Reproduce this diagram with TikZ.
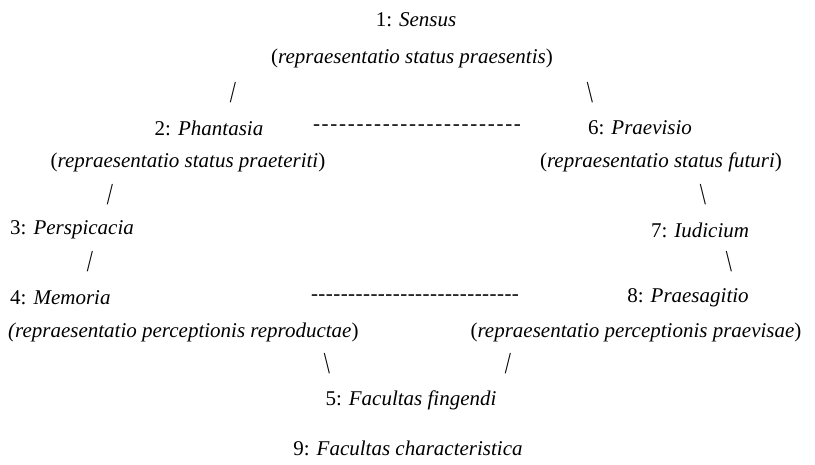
\documentclass[tikz,border=0pt]{standalone}
\usepackage{graphicx}
\usepackage{fontspec}
\setmainfont{Liberation Serif}
\ExplSyntaxOn
\NewDocumentCommand\dashrow{m m}{\hbox~to~#2{\prg_replicate:nn{#1-1}{-\hfil}-}}
\ExplSyntaxOff
\newcommand\fwd{\scalebox{1.05}[1.45]{/}}
\newcommand\bck{\scalebox{1.05}[1.45]{\textbackslash}}
\begin{document}
\begin{tikzpicture}[x=1pt,y=-1pt,
  txt/.style={inner sep=0pt, font=\fontsize{21}{25}\selectfont},
  link/.style={txt},
  lft/.style={txt, anchor=west}]
\useasboundingbox (0,0) rectangle (815,465);
\node[txt] (n1) at (416,20) {1: \textit{Sensus}};
\node[txt] (p1) at (412,58) {(\textit{repraesentatio status praesentis})};
\node[link] (s12) at (233,93) {\fwd};
\node[link] (s16) at (590,93) {\bck};
\node[txt] (n2) at (209,128) {2: \textit{Phantasia}};
\node[txt] (d26) at (417,128) {\dashrow{24}{208pt}};
\node[txt] (n6) at (640,128) {6: \textit{Praevisio}};
\node[txt] (p2) at (188,162) {(\textit{repraesentatio status praeteriti})};
\node[txt] (p6) at (661,162) {(\textit{repraesentatio status futuri})};
\node[link] (s23) at (110,195) {\fwd};
\node[link] (s67) at (703,195) {\bck};
\node[lft] (n3) at (10,230) {3: \textit{Perspicacia}};
\node[txt] (n7) at (700,230) {7: \textit{Iudicium}};
\node[link] (s34) at (90,262) {\fwd};
\node[link] (s78) at (729,262) {\bck};
\node[lft] (n4) at (10,298) {4: \textit{Memoria}};
\node[txt] (d48) at (415,298) {\dashrow{28}{208pt}};
\node[txt] (n8) at (688,298) {8: \textit{Praesagitio}};
\node[lft] (p4) at (8,332) {\textit{(repraesentatio perceptionis reproductae})};
\node[txt] (p8) at (636,332) {(\textit{repraesentatio perceptionis praevisae})};
\node[link] (s45) at (327,364) {\bck};
\node[link] (s85) at (508,364) {\fwd};
\node[txt] (n5) at (411,400) {5: \textit{Facultas fingendi}};
\node[txt] (n9) at (408,448) {9: \textit{Facultas characteristica}};
\end{tikzpicture}
\end{document}
